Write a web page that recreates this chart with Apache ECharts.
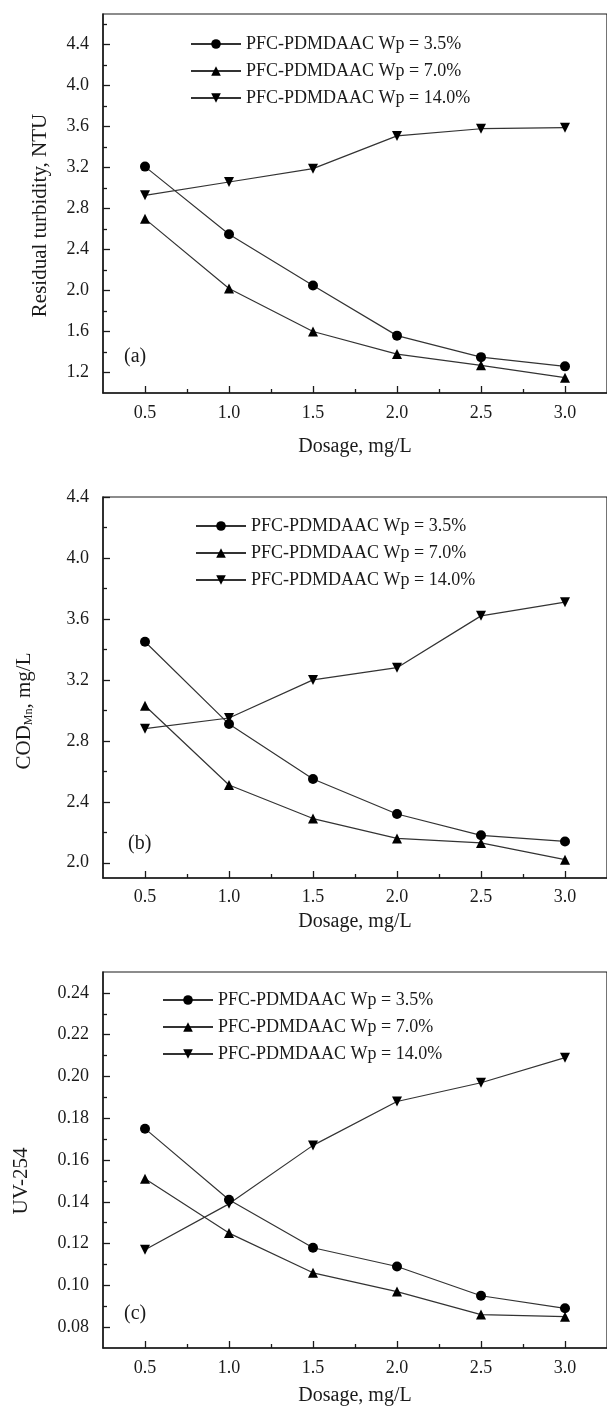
<!DOCTYPE html>
<html>
<head>
<meta charset="utf-8">
<title>PFC-PDMDAAC dosage</title>
<script src="https://cdn.jsdelivr.net/npm/echarts@6/dist/echarts.min.js"></script>
<style>
  html, body { margin: 0; padding: 0; background: #fff; }
  #chart { width: 607px; height: 1407px; }
</style>
</head>
<body>
<div id="chart"></div>
<script>
// dosage, mg/L
const dosage = [0.5, 1.0, 1.5, 2.0, 2.5, 3.0];
const seriesNames = ['PFC-PDMDAAC Wp = 3.5%', 'PFC-PDMDAAC Wp = 7.0%', 'PFC-PDMDAAC Wp = 14.0%'];

// (a) residual turbidity, NTU
const turbidity35 = [3.21, 2.55, 2.05, 1.56, 1.35, 1.26];
const turbidity70 = [2.70, 2.02, 1.60, 1.38, 1.27, 1.15];
const turbidity140 = [2.93, 3.06, 3.19, 3.51, 3.58, 3.59];

// (b) COD Mn, mg/L
const cod35 = [3.45, 2.91, 2.55, 2.32, 2.18, 2.14];
const cod70 = [3.03, 2.51, 2.29, 2.16, 2.13, 2.02];
const cod140 = [2.88, 2.95, 3.20, 3.28, 3.62, 3.71];

// (c) UV-254
const uv35 = [0.175, 0.141, 0.118, 0.109, 0.095, 0.089];
const uv70 = [0.151, 0.125, 0.106, 0.097, 0.086, 0.085];
const uv140 = [0.117, 0.139, 0.167, 0.188, 0.197, 0.209];

// tick labels
const xTicks = [0.5, 1.0, 1.5, 2.0, 2.5, 3.0];
const xMinorTicks = [0.75, 1.25, 1.75, 2.25, 2.75];
const turbidityTicks = [1.2, 1.6, 2.0, 2.4, 2.8, 3.2, 3.6, 4.0, 4.4];
const turbidityMinorTicks = [1.4, 1.8, 2.2, 2.6, 3.0, 3.4, 3.8, 4.2, 4.6];
const codTicks = [2.0, 2.4, 2.8, 3.2, 3.6, 4.0, 4.4];
const codMinorTicks = [2.2, 2.6, 3.0, 3.4, 3.8, 4.2];
const uvTicks = [0.08, 0.10, 0.12, 0.14, 0.16, 0.18, 0.20, 0.22, 0.24];
const uvMinorTicks = [0.09, 0.11, 0.13, 0.15, 0.17, 0.19, 0.21, 0.23];

const FONT = '"Liberation Serif", "Times New Roman", serif';
const INK = '#1a1a1a';

// layout of the three stacked panels
const panels = [
  {
    top: 14, height: 379, yMin: 1.0, yMax: 4.7, digits: 1,
    ticks: turbidityTicks, minor: turbidityMinorTicks,
    data: [turbidity35, turbidity70, turbidity140],
    yName: 'Residual turbidity, NTU', yGap: 52, yShift: 24,
    xGap: 44, xMargin: 11, legendLeft: 190, legendTop: 35,
    tag: '(a)', tagY: 358, tagX: 124
  },
  {
    top: 497, height: 381, yMin: 1.9, yMax: 4.4, digits: 1,
    ticks: codTicks, minor: codMinorTicks,
    data: [cod35, cod70, cod140],
    yName: '{t|COD}{s|Mn}{t|, mg/L}', yGap: 68, yShift: 47,
    xGap: 34, xMargin: 10, legendLeft: 195, legendTop: 517,
    tag: '(b)', tagY: 845, tagX: 128
  },
  {
    top: 972, height: 380, yMin: 0.07, yMax: 0.25, digits: 2,
    ticks: uvTicks, minor: uvMinorTicks,
    data: [uv35, uv70, uv140],
    yName: 'UV-254', yGap: 71, yShift: 42,
    xGap: 38, xMargin: 11, legendLeft: 162, legendTop: 991,
    tag: '(c)', tagY: 1315, tagX: 124
  }
];

const symbols = [
  { symbol: 'circle', rotate: 0 },
  { symbol: 'triangle', rotate: 0 },
  { symbol: 'triangle', rotate: 180 }
];

const chart = echarts.init(document.getElementById('chart'));

const grid = [], xAxis = [], yAxis = [], series = [], legend = [], graphic = [];

panels.forEach((p, g) => {
  grid.push({
    left: 103, top: p.top, width: 510, height: p.height,
    show: true, borderColor: INK, borderWidth: 1.2, backgroundColor: 'transparent'
  });

  // main x axis with labels
  xAxis.push({
    type: 'value', gridIndex: g, position: 'bottom', min: 0.25, max: 3.25,
    splitLine: { show: false },
    axisLine: { lineStyle: { color: INK, width: 1.5 } },
    axisTick: { inside: true, length: 7, customValues: xTicks, lineStyle: { color: INK, width: 1.3 } },
    axisLabel: {
      customValues: xTicks, margin: p.xMargin, color: INK,
      fontFamily: FONT, fontSize: 18, formatter: v => v.toFixed(1)
    },
    name: 'Dosage, mg/L', nameLocation: 'middle', nameGap: p.xGap,
    nameTextStyle: { fontFamily: FONT, fontSize: 20, color: INK }
  });
  // minor x ticks
  xAxis.push({
    type: 'value', gridIndex: g, position: 'bottom', min: 0.25, max: 3.25,
    splitLine: { show: false }, axisLine: { show: false }, axisLabel: { show: false },
    axisTick: { inside: true, length: 4, customValues: xMinorTicks, lineStyle: { color: INK, width: 1.3 } }
  });

  yAxis.push({
    type: 'value', gridIndex: g, position: 'left', min: p.yMin, max: p.yMax,
    splitLine: { show: false },
    axisLine: { lineStyle: { color: INK, width: 1.5 } },
    axisTick: { inside: true, length: 7, customValues: p.ticks, lineStyle: { color: INK, width: 1.3 } },
    axisLabel: {
      customValues: p.ticks, margin: 14, color: INK,
      fontFamily: FONT, fontSize: 18, formatter: v => v.toFixed(p.digits)
    },
    name: p.yName, nameLocation: 'middle', nameGap: p.yGap,
    nameTextStyle: {
      fontFamily: FONT, fontSize: 21, color: INK, padding: [0, p.yShift, 0, 0],
      rich: {
        t: { fontFamily: FONT, fontSize: 21, color: INK, lineHeight: 22 },
        s: { fontFamily: FONT, fontSize: 12, color: INK, lineHeight: 22, verticalAlign: 'bottom', padding: [8, 0, 0, 0] }
      }
    }
  });
  yAxis.push({
    type: 'value', gridIndex: g, position: 'left', min: p.yMin, max: p.yMax,
    splitLine: { show: false }, axisLine: { show: false }, axisLabel: { show: false },
    axisTick: { inside: true, length: 4, customValues: p.minor, lineStyle: { color: INK, width: 1.3 } }
  });

  p.data.forEach((vals, k) => {
    series.push({
      name: seriesNames[k], type: 'line',
      xAxisIndex: 2 * g, yAxisIndex: 2 * g,
      data: dosage.map((x, i) => [x, vals[i]]),
      symbol: symbols[k].symbol, symbolRotate: symbols[k].rotate, symbolSize: 10,
      lineStyle: { color: '#333', width: 1.2 },
      itemStyle: { color: '#000' },
      emphasis: { disabled: true }
    });
  });

  legend.push({
    orient: 'vertical', left: p.legendLeft, top: p.legendTop, padding: 0,
    itemWidth: 50, itemHeight: 12, itemGap: 9, selectedMode: false,
    data: seriesNames,
    textStyle: { fontFamily: FONT, fontSize: 18, color: INK, lineHeight: 18 }
  });

  graphic.push({
    type: 'text', left: p.tagX, top: p.tagY - 11,
    style: { text: p.tag, fontFamily: FONT, fontSize: 20, fill: INK }
  });
});

chart.setOption({
  animation: false,
  backgroundColor: '#fff',
  grid, xAxis, yAxis, series, legend, graphic
});
</script>
</body>
</html>
